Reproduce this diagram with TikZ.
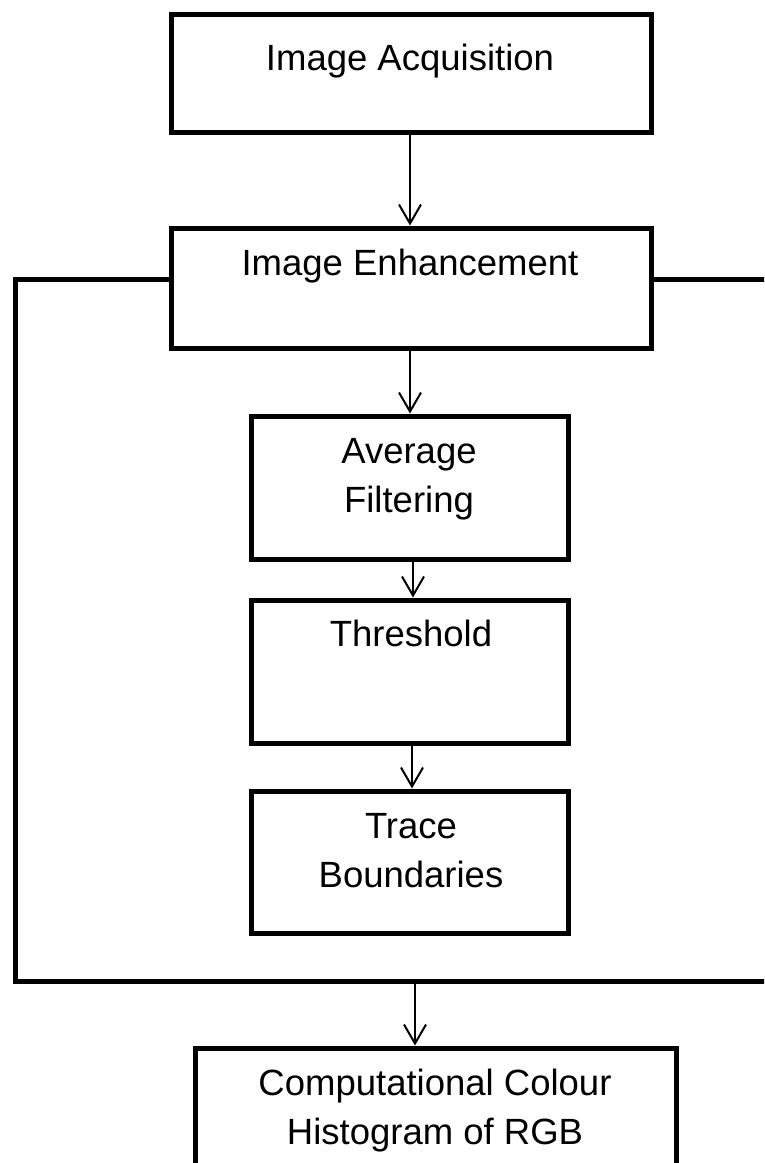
\documentclass[tikz,border=0pt]{standalone}
\usepackage{fontspec}
\setmainfont{Liberation Sans}
\usetikzlibrary{arrows.meta,calc}

\tikzset{
  stage/.style={draw=black, line width=5pt, rectangle, inner sep=0pt, line join=miter},
  caption/.style={font=\fontsize{36.5}{49}\selectfont, align=center, inner sep=0pt, anchor=base},
  arr/.style={draw=black, line width=2pt, -{Straight Barb[length=19pt,width=22pt,line width=2pt]}},
  frame/.style={draw=black, line width=5pt, line join=miter}
}

\begin{document}
\begin{tikzpicture}[x=1pt, y=-1pt]
  \useasboundingbox (0,0) rectangle (764,1163);
  \clip (0,0) rectangle (764,1163);

  % processing stages
  \node[stage, minimum width=480pt, minimum height=118pt] (acq)  at (411,73)    {};
  \node[stage, minimum width=480pt, minimum height=120pt] (enh)  at (411,288)   {};
  \node[stage, minimum width=317pt, minimum height=143pt] (avg)  at (409.5,487.5) {};
  \node[stage, minimum width=317pt, minimum height=143pt] (thr)  at (409.5,671.5) {};
  \node[stage, minimum width=317pt, minimum height=142pt] (trc)  at (409.5,862)  {};
  \node[stage, minimum width=481pt, minimum height=202pt] (hist) at (435.5,1149) {};

  % stage captions (base anchor sits on the last line)
  \node[caption] (acqT)  at (410,70)   {Image Acquisition};
  \node[caption] (enhT)  at (410,275)  {Image Enhancement};
  \node[caption] (avgT)  at (409,512)  {Average\\Filtering};
  \node[caption] (thrT)  at (411,646)  {Threshold};
  \node[caption] (trcT)  at (411,887)  {Trace\\Boundaries};
  \node[caption] (histT) at (435,1144) {Computational Colour\\Histogram of RGB};

  % enclosing frame around the enhancement steps
  \coordinate (fl) at ($(enh.west)+(0,-9)$);
  \coordinate (fr) at ($(enh.east)+(0,-9)$);
  \coordinate (ftl) at (15,279);
  \coordinate (fbl) at (15,981);
  \coordinate (fbr) at (790,981);
  \coordinate (ftr) at (790,279);
  \coordinate (jb) at (415,981);
  \draw[frame] (fl) -- (ftl) -- (fbl) -- (fbr);
  \draw[frame] (fr) -- (ftr);

  % flow arrows
  \draw[arr] (acq.south -| 410,0) -- (enh.north -| 410,0);
  \draw[arr] (enh.south -| 410,0) -- (avg.north -| 410,0);
  \draw[arr] (avg.south -| 413,0) -- (thr.north -| 413,0);
  \draw[arr] (thr.south -| 412,0) -- (trc.north -| 412,0);
  \draw[arr] (jb) -- (jb |- hist.north);
\end{tikzpicture}
\end{document}
